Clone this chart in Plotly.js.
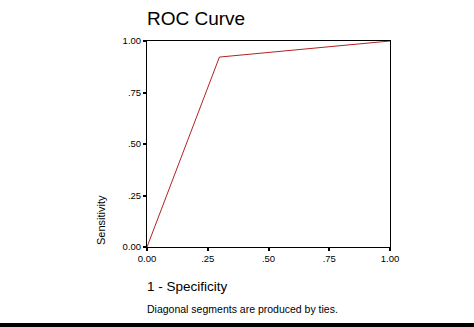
<!DOCTYPE html>
<html><head><meta charset="utf-8">
<script src="https://cdn.plot.ly/plotly-3.0.1.min.js"></script>
<style>html,body{margin:0;padding:0;background:#fff;overflow:hidden}#bar{width:474px;height:4px;background:#000}</style>
</head><body>
<div id="chart" style="width:474px;height:323px"></div>
<div id="bar"></div>
<script>
var specComplement = [0, 0.298, 1];
var sensitivity = [0, 0.922, 1];
var tickVals = [0, 0.25, 0.5, 0.75, 1];
var tickText = ['0.00', '.25', '.50', '.75', '1.00'];

var trace = {x: specComplement, y: sensitivity, type: 'scatter', mode: 'lines',
  line: {color: '#b22222', width: 1}, hoverinfo: 'skip'};
var font = {family: 'Liberation Sans, Arial, sans-serif', color: '#000'};
var layout = {
  width: 474, height: 323,
  margin: {l: 147, r: 84, t: 41, b: 76, pad: 0},
  paper_bgcolor: '#fff', plot_bgcolor: '#fff',
  showlegend: false,
  font: {family: font.family, size: 9.5, color: '#000'},
  xaxis: {range: [0, 1], tickvals: tickVals, ticktext: tickText, ticks: 'outside', ticklen: 3, tickwidth: 2,
    tickcolor: '#000', showline: true, linecolor: '#000', linewidth: 1, mirror: true, showgrid: false, zeroline: false,
    tickfont: {family: font.family, size: 9.5, color: '#000'}, fixedrange: true},
  yaxis: {range: [0, 1], tickvals: tickVals, ticktext: tickText, ticks: 'outside', ticklen: 3, tickwidth: 2,
    tickcolor: '#000', showline: true, linecolor: '#000', linewidth: 1, mirror: true, showgrid: false, zeroline: false,
    tickfont: {family: font.family, size: 9.5, color: '#000'}, fixedrange: true},
  annotations: [
    {text: 'ROC Curve', xref: 'paper', yref: 'paper', x: 0, y: 1, xshift: -2, yshift: 10, xanchor: 'left', yanchor: 'bottom',
      showarrow: false, font: {family: font.family, size: 19, color: '#000'}},
    {text: 'Sensitivity', xref: 'paper', yref: 'paper', x: 0, y: 0, xshift: -46, yshift: 0, xanchor: 'center', yanchor: 'bottom',
      textangle: -90, showarrow: false, font: {family: font.family, size: 11, color: '#000'}},
    {text: '1 - Specificity', xref: 'paper', yref: 'paper', x: 0, y: 0, xshift: -2, yshift: -39, xanchor: 'left', yanchor: 'middle',
      showarrow: false, font: {family: font.family, size: 13.5, color: '#000'}},
    {text: 'Diagonal segments are produced by ties.', xref: 'paper', yref: 'paper', x: 0, y: 0, xshift: -2, yshift: -62, xanchor: 'left', yanchor: 'middle',
      showarrow: false, font: {family: font.family, size: 10.5, color: '#000'}}
  ]
};
Plotly.newPlot('chart', [trace], layout, {displayModeBar: false, staticPlot: true});
</script>
</body></html>
